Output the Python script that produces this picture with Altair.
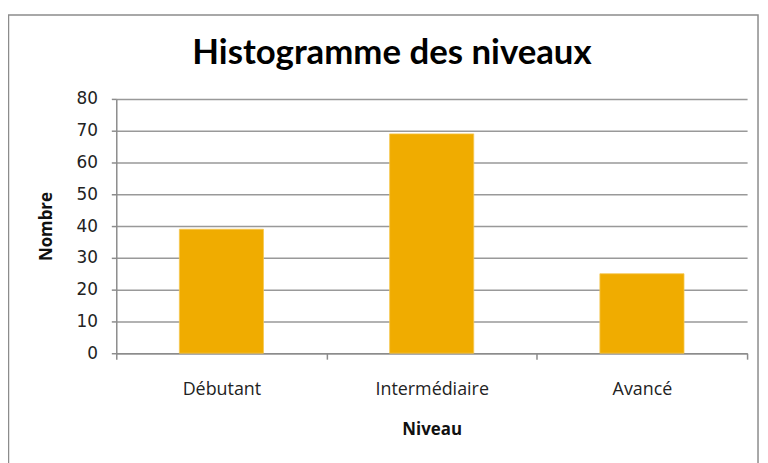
import altair as alt
import pandas as pd

niveaux = ["Débutant", "Intermédiaire", "Avancé"]
nombres = [39, 69, 25]

df = pd.DataFrame({"Niveau": niveaux, "Nombre": nombres})

W, H = 635, 256
PL, PT, PR, PB = 109, 90, 13, 109

frame = alt.Chart(pd.DataFrame({"a": [0]})).mark_rect(
    fill=None, stroke="#8c8c8c", strokeWidth=1.5
).encode(
    x=alt.value(-PL + 0.5), x2=alt.value(W + PR - 2),
    y=alt.value(-PT + 5.5), y2=alt.value(H + PB + 5)
)

bars = alt.Chart(df).mark_bar(
    color="#F0AC00", width=alt.RelativeBandSize(0.4), stroke="#F5C850", strokeWidth=0.8
).encode(
    x=alt.X("Niveau:N", sort=niveaux,
            scale=alt.Scale(paddingInner=0, paddingOuter=0),
            axis=alt.Axis(title="Niveau", labelAngle=0, tickBand="extent",
                          grid=False, domainColor="#8c8c8c", domainWidth=1.5,
                          tickColor="#8c8c8c", tickWidth=1.5, tickSize=6,
                          labelPadding=22, labelFont="Open Sans", labelFontSize=18,
                          labelColor="#222", titleFont="Open Sans", titleFontSize=17,
                          titleFontWeight="bold", titleColor="#111", titlePadding=23)),
    y=alt.Y("Nombre:Q", scale=alt.Scale(domain=[0, 80]),
            axis=alt.Axis(title="Nombre", values=list(range(0, 81, 10)),
                          gridColor="#999999", gridWidth=1.5, domainColor="#8c8c8c",
                          domainWidth=1.5, tickColor="#8c8c8c", tickWidth=1.5, tickSize=5,
                          labelPadding=14, labelFont="DejaVu Sans", labelFontSize=17,
                          labelColor="#222", titleFont="Open Sans", titleFontSize=17,
                          titleFontWeight="bold", titleColor="#111", titlePadding=21))
)

chart = alt.layer(frame, bars).properties(
    width=W, height=H,
    title=alt.TitleParams("Histogramme des niveaux", font="Lato", fontSize=35,
                          fontWeight="bold", color="#000", anchor="middle",
                          dx=-40, offset=-57),
    autosize=alt.AutoSizeParams(type="none"),
    padding={"left": PL, "top": PT, "right": PR, "bottom": PB},
).configure_view(stroke=None)

chart.save("out.html", embed_options={"renderer": "svg", "actions": False})
